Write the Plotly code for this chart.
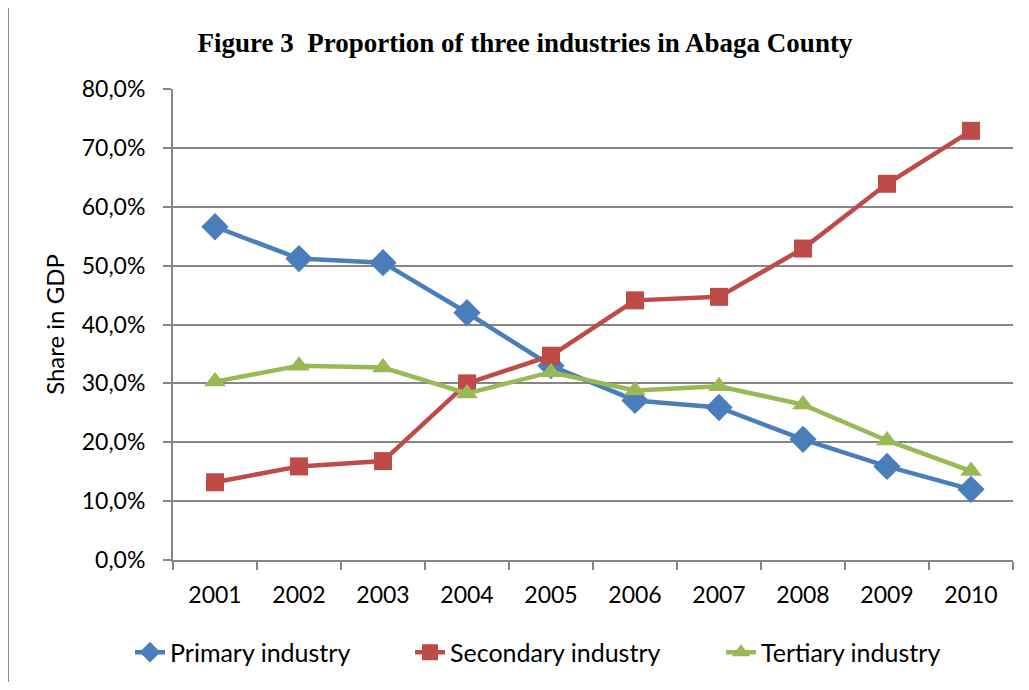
import plotly.graph_objects as go

years = ["2001", "2002", "2003", "2004", "2005", "2006", "2007", "2008", "2009", "2010"]
primary = [56.6, 51.2, 50.5, 42.0, 33.0, 27.1, 25.9, 20.5, 15.9, 12.0]
secondary = [13.2, 15.9, 16.8, 30.0, 34.7, 44.1, 44.7, 52.9, 63.9, 72.9]
tertiary = [30.3, 33.0, 32.7, 28.3, 31.9, 28.8, 29.5, 26.4, 20.3, 15.1]
y_ticks = [0, 10, 20, 30, 40, 50, 60, 70, 80]
y_tick_labels = ["0,0%", "10,0%", "20,0%", "30,0%", "40,0%", "50,0%", "60,0%", "70,0%", "80,0%"]

FONT = "Lato"
series = [
    ("Primary industry", primary, "#4A7EBB", "diamond", 21, "legend", 130),
    ("Secondary industry", secondary, "#BE4B48", "square", 18, "legend2", 410),
    ("Tertiary industry", tertiary, "#98B954", "triangle-up", 19, "legend3", 721),
]

fig = go.Figure()
for name, vals, color, sym, size, leg, _ in series:
    fig.add_trace(go.Scatter(
        x=years, y=vals, name=name, mode="lines+markers",
        line=dict(color=color, width=4.5),
        marker=dict(symbol=sym, size=size, color=color),
        legend=leg,
    ))

# page body has an 8px margin: figure spans 8..1021 x 8..682
W, H = 1013, 674
legend_common = dict(
    orientation="h", xanchor="left", y=-0.145, yanchor="top",
    font=dict(family=FONT, size=25, color="black"),
    bgcolor="rgba(0,0,0,0)",
)
layout_legends = {}
for name, vals, color, sym, size, leg, px in series:
    layout_legends[leg] = dict(legend_common, x=(px - 173) / 840)

fig.update_layout(
    width=W, height=H,
    margin=dict(l=165, r=8, t=81, b=121),
    paper_bgcolor="white", plot_bgcolor="white",
    font=dict(family=FONT, size=23, color="black"),
    title=dict(
        text="<b>Figure 3  Proportion of three industries in Abaga County</b>",
        x=(525 - 8) / W, xanchor="center", y=1 - (43 - 8) / H, yanchor="middle",
        font=dict(family="Liberation Serif", size=27, color="black"),
    ),
    showlegend=True,
    shapes=[dict(
        type="rect", xref="paper", yref="paper",
        x0=-165 / 840, x1=1.2, y0=-0.6, y1=(561 - 4) / 472,
        line=dict(color="#8c8c8c", width=2), fillcolor="rgba(0,0,0,0)", layer="below",
    )],
    **layout_legends,
)

fig.update_xaxes(
    type="category", range=[-0.5, 9.5],
    showline=True, linecolor="#868686", linewidth=2,
    ticks="outside", tickson="boundaries", ticklen=8, tickcolor="#868686", tickwidth=2,
    showgrid=False, ticklabelstandoff=13,
    tickfont=dict(family=FONT, size=23, color="black"),
)
fig.update_yaxes(
    range=[0, 80], tickvals=y_ticks, ticktext=y_tick_labels,
    showline=True, linecolor="#868686", linewidth=2,
    ticks="outside", ticklen=8, tickcolor="#868686", tickwidth=2,
    showgrid=True, gridcolor="#868686", gridwidth=2, zeroline=False,
    ticklabelstandoff=13,
    tickfont=dict(family=FONT, size=23, color="black"),
    title=dict(text="Share in GDP", font=dict(family=FONT, size=24, color="black"), standoff=10),
)

fig.write_html("out.html")
